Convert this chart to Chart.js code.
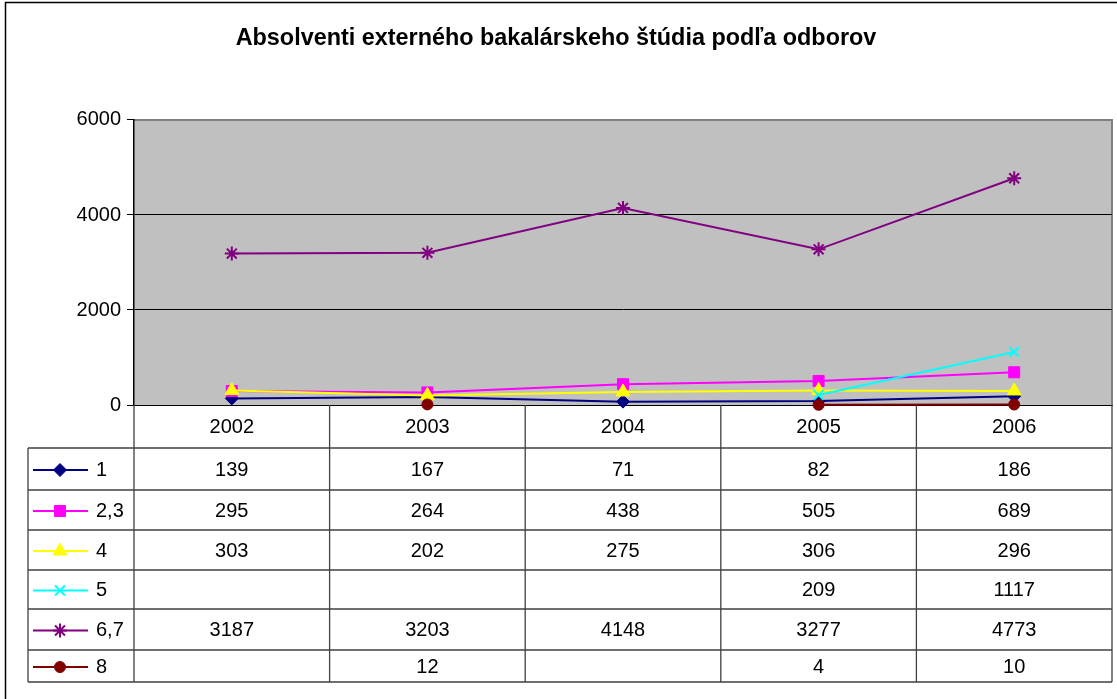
<!DOCTYPE html>
<html><head><meta charset="utf-8">
<script src="https://cdn.jsdelivr.net/npm/chart.js@4.4.1/dist/chart.umd.min.js"></script>
<style>html,body{margin:0;padding:0;background:#fff}#wrap{position:relative;width:1117px;height:699px}</style>
</head><body><div id="wrap"><canvas id="c"></canvas></div>
<script>
const chartTitle = 'Absolventi externého bakalárskeho štúdia podľa odborov';
const years = ['2002','2003','2004','2005','2006'];
const seriesNames = ['1','2,3','4','5','6,7','8'];
const s1  = [139, 167, 71, 82, 186];
const s23 = [295, 264, 438, 505, 689];
const s4  = [303, 202, 275, 306, 296];
const s5  = [null, null, null, 209, 1117];
const s67 = [3187, 3203, 4148, 3277, 4773];
const s8  = [null, 12, null, 4, 10];
const yTicks = [0, 2000, 4000, 6000];

const seriesData = [s1, s23, s4, s5, s67, s8];
const colors = ['#000080','#FF00FF','#FFFF00','#00FFFF','#800080','#800000'];
const pStyles = ['rectRot','rect','triangle','crossRot','star','circle'];
const pRadius = [6.5, 7.8, 8, 7, 7, 5.5];
const FONT = '"Liberation Sans", Arial, sans-serif';
const FS = 20;

const datasets = seriesData.map((d, i) => ({
  label: seriesNames[i], data: d,
  borderColor: colors[i], backgroundColor: colors[i],
  borderWidth: 2, pointStyle: pStyles[i], pointRadius: pRadius[i],
  pointBorderColor: colors[i], pointBackgroundColor: colors[i], pointBorderWidth: (i===3||i===4)?2:1,
  spanGaps: false, tension: 0, order: 5 - i, clip: false
}));

const bgPlugin = {
  id: 'bg',
  beforeDraw(chart) {
    const {ctx, chartArea: a} = chart;
    ctx.save();
    ctx.fillStyle = '#C0C0C0';
    ctx.fillRect(a.left, a.top, a.right - a.left, a.bottom - a.top);
    ctx.strokeStyle = '#808080'; ctx.lineWidth = 2;
    ctx.beginPath(); ctx.moveTo(a.left, a.top); ctx.lineTo(a.right, a.top); ctx.lineTo(a.right, a.bottom); ctx.stroke();
    ctx.strokeStyle = '#000'; ctx.lineWidth = 1.5;
    ctx.strokeRect(5.5, 2.5, 1300, 900);
    ctx.restore();
  }
};

const rowsY = [448, 490, 530, 570, 609, 650, 682];
const tablePlugin = {
  id: 'table',
  afterDraw(chart) {
    const {ctx, chartArea: a} = chart;
    const xs = chart.scales.x;
    const colW = xs.getPixelForValue(1) - xs.getPixelForValue(0);
    const legL = 28;
    ctx.save();
    ctx.strokeStyle = '#404040'; ctx.lineWidth = 1.3;
    ctx.beginPath();
    ctx.moveTo(a.left, a.bottom); ctx.lineTo(a.left, rowsY[rowsY.length-1]);
    for (let i = 0; i < years.length; i++) {
      const xr = xs.getPixelForValue(i) + colW / 2;
      ctx.moveTo(xr, a.bottom); ctx.lineTo(xr, rowsY[rowsY.length-1]);
    }
    ctx.moveTo(legL, rowsY[0]); ctx.lineTo(legL, rowsY[rowsY.length-1]);
    for (const y of rowsY) { ctx.moveTo(legL, y); ctx.lineTo(a.right, y); }
    ctx.stroke();

    ctx.font = FS + 'px ' + FONT;
    ctx.fillStyle = '#000';
    ctx.textBaseline = 'middle';
    chart.data.datasets.forEach((ds, r) => {
      const yc = (rowsY[r] + rowsY[r+1]) / 2 + 1;
      ctx.strokeStyle = ds.borderColor; ctx.lineWidth = 2;
      ctx.beginPath(); ctx.moveTo(33, yc); ctx.lineTo(88, yc); ctx.stroke();
      ctx.fillStyle = ds.backgroundColor; ctx.strokeStyle = ds.borderColor; ctx.lineWidth = ds.pointBorderWidth;
      Chart.helpers.drawPoint(ctx, {pointStyle: ds.pointStyle, rotation: 0, radius: ds.pointRadius, borderWidth: ds.pointBorderWidth}, 60, yc);
      ctx.fillStyle = '#000';
      ctx.textAlign = 'left';
      ctx.fillText(ds.label, 96, yc);
      ctx.textAlign = 'center';
      ds.data.forEach((v, i) => {
        if (v !== null && v !== undefined) ctx.fillText(String(v), xs.getPixelForValue(i), yc);
      });
    });
    ctx.restore();
  }
};

new Chart(document.getElementById('c'), {
  type: 'line',
  data: { labels: years, datasets },
  options: {
    responsive: true, maintainAspectRatio: false, animation: false,
    layout: { autoPadding: false, padding: { left: 0, right: 5, top: 0, bottom: 0 } },
    plugins: {
      legend: { display: false }, tooltip: { enabled: false },
      title: { display: true, text: chartTitle, color: '#000',
        font: { family: FONT, size: 23.4, weight: 'bold' },
        padding: { top: 25, bottom: 66.9 } }
    },
    scales: {
      x: {
        offset: true,
        grid: { display: false, drawTicks: false },
        border: { display: true, color: '#000', width: 1 },
        ticks: { color: '#000', font: { family: FONT, size: FS }, padding: 10, maxRotation: 0, autoSkip: false },
        afterFit: s => { s.height = 699 - 405; s.paddingLeft = 0; s.paddingRight = 0; }
      },
      y: {
        min: 0, max: 6000,
        afterBuildTicks: s => { s.ticks = yTicks.map(v => ({ value: v })); },
        grid: { color: c => c.tick && c.tick.value === 6000 ? '#808080' : '#000', lineWidth: 1,
                drawTicks: true, tickLength: 7, tickColor: '#000' },
        border: { display: true, color: '#000', width: 1.5 },
        ticks: { color: '#000', font: { family: FONT, size: FS }, padding: 6, callback: v => String(v) },
        afterFit: s => { s.width = 134; }
      }
    }
  },
  plugins: [bgPlugin, tablePlugin]
});
</script>
</body></html>
